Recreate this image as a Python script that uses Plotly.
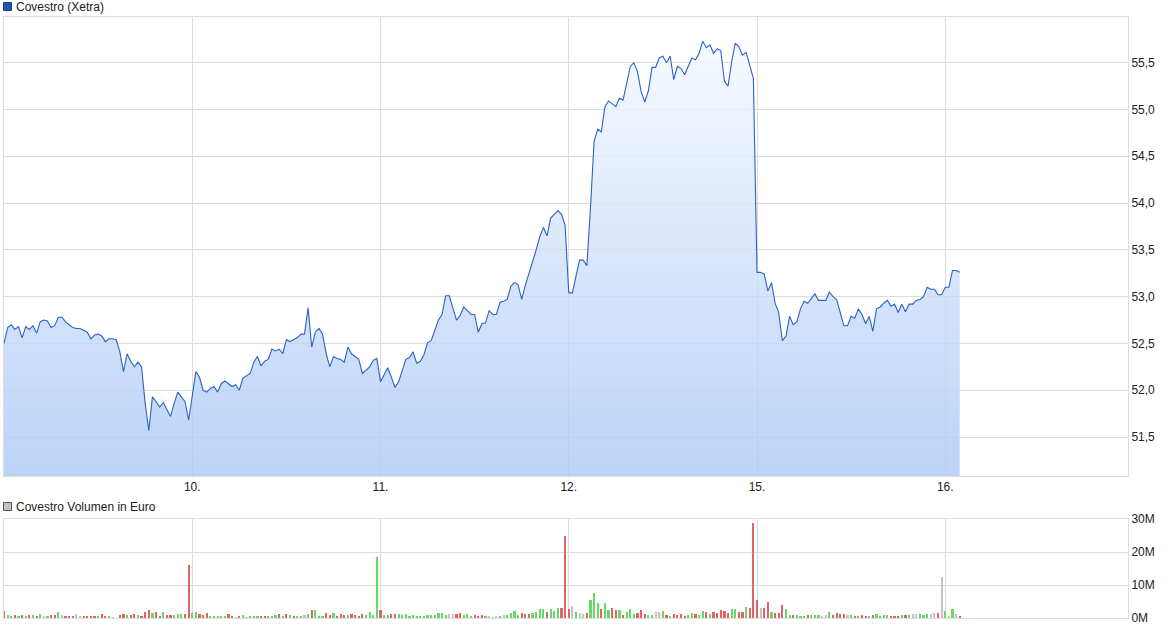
import plotly.graph_objects as go

# ---------------- data ----------------
day_labels = ["9.", "10.", "11.", "12.", "15.", "16."]
slots_per_day = 52

price_09 = [52.50, 52.67, 52.70, 52.65, 52.68, 52.56, 52.68, 52.65, 52.69, 52.61,
            52.73, 52.75, 52.74, 52.67, 52.69, 52.78, 52.78, 52.73, 52.70, 52.67,
            52.66, 52.66, 52.64, 52.62, 52.55, 52.59, 52.60, 52.58, 52.52, 52.55,
            52.55, 52.54, 52.41, 52.20, 52.39, 52.31, 52.25, 52.30, 52.25, 51.86,
            51.57, 51.93, 51.88, 51.82, 51.87, 51.80, 51.72, 51.86, 51.98, 51.93,
            51.88, 51.68]
price_10 = [51.95, 52.20, 52.14, 52.00, 51.98, 52.02, 52.04, 51.98, 52.07, 52.10,
            52.07, 52.04, 52.06, 52.00, 52.13, 52.16, 52.18, 52.30, 52.36, 52.26,
            52.31, 52.33, 52.44, 52.42, 52.44, 52.39, 52.54, 52.52, 52.54, 52.56,
            52.60, 52.60, 52.88, 52.46, 52.62, 52.66, 52.60, 52.39, 52.25, 52.36,
            52.34, 52.33, 52.30, 52.46, 52.39, 52.36, 52.33, 52.18, 52.21, 52.25,
            52.32, 52.34]
price_11 = [52.09, 52.16, 52.24, 52.14, 52.03, 52.09, 52.21, 52.33, 52.35, 52.41,
            52.29, 52.31, 52.38, 52.51, 52.53, 52.65, 52.75, 52.81, 53.01, 53.01,
            52.87, 52.75, 52.80, 52.89, 52.85, 52.81, 52.81, 52.62, 52.71, 52.72,
            52.85, 52.81, 52.81, 52.94, 52.95, 52.97, 53.11, 53.15, 53.13, 52.97,
            53.12, 53.24, 53.36, 53.50, 53.64, 53.74, 53.65, 53.84, 53.88, 53.92,
            53.88, 53.76]
price_12 = [53.04, 53.04, 53.22, 53.39, 53.39, 53.33, 53.95, 54.66, 54.79, 54.76,
            55.03, 55.09, 55.06, 55.03, 55.12, 55.10, 55.28, 55.46, 55.50, 55.40,
            55.19, 55.08, 55.20, 55.45, 55.45, 55.55, 55.57, 55.50, 55.57, 55.32,
            55.46, 55.44, 55.37, 55.46, 55.55, 55.53, 55.60, 55.73, 55.66, 55.69,
            55.60, 55.65, 55.63, 55.30, 55.25, 55.51, 55.71, 55.67, 55.58, 55.61,
            55.48, 55.33]
price_15 = [53.26, 53.26, 53.24, 53.06, 53.15, 52.93, 52.83, 52.53, 52.58, 52.79,
            52.70, 52.73, 52.87, 52.95, 52.93, 52.98, 53.03, 52.96, 52.96, 52.96,
            53.05, 53.00, 52.97, 52.82, 52.69, 52.69, 52.79, 52.77, 52.87, 52.81,
            52.71, 52.79, 52.63, 52.87, 52.89, 52.93, 52.96, 52.90, 52.92, 52.83,
            52.92, 52.84, 52.92, 52.92, 52.96, 52.97, 53.00, 53.10, 53.08, 53.08,
            53.02, 53.02]
price_16 = [53.10, 53.10, 53.28, 53.28, 53.26]

# volume in million euro, direction code: r = down, g = up, n = unchanged
vol_09 = [2.0, 1.0, 0.6, 0.8, 0.5, 0.8, 0.6, 0.9, 0.9, 0.6,
          1.1, 0.5, 0.6, 0.9, 0.9, 1.7, 0.9, 0.6, 0.5, 0.5,
          1.1, 0.5, 0.5, 0.5, 0.5, 0.5, 0.5, 1.1, 0.5, 0.5,
          0.3, 0.1, 0.9, 1.1, 0.9, 0.9, 1.1, 0.9, 0.6, 1.8,
          2.3, 1.4, 1.8, 0.6, 1.7, 0.8, 0.8, 0.8, 1.1, 1.1,
          1.1, 16.2]
dir_09 = "rggrgrgrgr" "gngrrgnrrr" "nnrrrrgrrg" "nnrrgrrgrr" "rgrrgrrggg" "rr"
vol_10 = [1.4, 1.7, 1.1, 0.9, 1.4, 0.6, 0.5, 0.5, 0.5, 0.5,
          1.1, 0.5, 0.3, 0.5, 0.8, 0.3, 0.5, 0.5, 0.5, 0.5,
          0.5, 0.5, 0.5, 0.8, 1.1, 0.6, 1.1, 0.8, 0.5, 0.6,
          0.6, 0.8, 1.1, 2.3, 2.4, 0.6, 0.5, 1.4, 0.9, 1.4,
          0.5, 1.1, 0.9, 0.9, 1.1, 0.9, 0.6, 1.1, 0.9, 1.7,
          0.8, 18.6]
dir_10 = "ggrrrggggg" "rrnrgngggr" "rgggrgrgrg" "gngrgggrrg" "rrrgrrrrgg" "gg"
vol_11 = [2.3, 0.9, 0.9, 1.1, 1.1, 1.2, 0.9, 1.1, 0.6, 0.8,
          0.5, 0.5, 0.6, 0.8, 0.8, 0.9, 1.4, 1.4, 0.9, 1.1,
          1.1, 1.1, 1.4, 0.9, 1.2, 0.6, 0.9, 0.6, 0.9, 0.5,
          0.5, 0.4, 0.5, 0.5, 0.8, 0.9, 1.4, 2.0, 0.9, 1.4,
          1.1, 1.1, 1.4, 1.7, 2.6, 2.6, 1.7, 2.6, 2.0, 2.9,
          2.9, 25.0]
dir_11 = "rggrrggggg" "gggggggggn" "nrrgggrrrg" "nnngnggggr" "rrggggrggg" "rr"
vol_12 = [2.6, 3.5, 1.7, 1.4, 1.3, 1.4, 5.6, 7.5, 4.4, 2.6,
          4.4, 2.3, 2.9, 2.3, 2.3, 0.9, 1.7, 2.6, 1.1, 1.4,
          2.3, 1.1, 0.9, 0.9, 1.7, 1.7, 2.0, 0.9, 0.6, 1.1,
          0.9, 1.1, 0.6, 0.8, 1.4, 1.1, 0.9, 2.0, 1.7, 1.2,
          1.7, 1.4, 2.3, 2.0, 1.4, 2.6, 2.6, 1.7, 1.7, 3.2,
          2.9, 28.9]
dir_12 = "rngnnrgggr" "ggrrgrgggr" "rrggnngrgr" "rrrggrggrg" "rrrrrggrrg" "rr"
vol_15 = [5.6, 2.9, 2.9, 4.7, 1.7, 1.4, 1.4, 3.8, 2.6, 0.9,
          0.8, 0.8, 0.5, 0.5, 0.8, 0.8, 0.9, 0.9, 0.5, 0.9,
          1.7, 0.8, 1.4, 1.1, 1.1, 0.8, 0.8, 0.6, 0.6, 0.8,
          0.6, 0.6, 0.9, 1.1, 0.6, 0.8, 0.8, 0.6, 0.6, 0.6,
          0.9, 0.9, 0.9, 1.1, 1.1, 1.1, 0.8, 1.1, 1.1, 1.4,
          1.4, 12.3]
dir_15 = "rnrrgrrrgg" "rgggrgggnn" "grrrrngrgr" "rgrggggrrr" "grgnngggnn" "rn"
vol_16 = [2.0, 0.5, 2.6, 1.1, 0.5]
dir_16 = "gngnr"

price_ticks = [51.5, 52.0, 52.5, 53.0, 53.5, 54.0, 54.5, 55.0, 55.5]
price_tick_text = ["51,5", "52,0", "52,5", "53,0", "53,5", "54,0", "54,5", "55,0", "55,5"]
vol_ticks = [0, 10, 20, 30]
vol_tick_text = ["0M", "10M", "20M", "30M"]

# ---------------- build series ----------------
price_days = [price_09, price_10, price_11, price_12, price_15, price_16]
vol_days = [vol_09, vol_10, vol_11, vol_12, vol_15, vol_16]
dir_days = [dir_09, dir_10, dir_11, dir_12, dir_15, dir_16]

x_price, y_price = [], []
for k, vals in enumerate(price_days):
    for i, v in enumerate(vals):
        x_price.append(k + i / slots_per_day)
        y_price.append(v)

dir_colors = {"r": "#e06666", "g": "#66d966", "n": "#c4c4c4"}
x_vol, y_vol, c_vol = [], [], []
for k, (vals, dirs) in enumerate(zip(vol_days, dir_days)):
    for i, v in enumerate(vals):
        x_vol.append(k + i / slots_per_day)
        y_vol.append(v)
        c_vol.append(dir_colors[dirs[i]])

FONT = "Liberation Sans, Arial, sans-serif"
GRID = "#dcdcdc"

fig = go.Figure()
fig.add_trace(go.Scatter(
    x=x_price, y=y_price, mode="lines",
    line=dict(color="#2a62c8", width=1.1),
    fill="tozeroy",
    fillgradient=dict(type="vertical",
                      colorscale=[[0, "rgba(171,200,245,0.8)"], [1, "rgba(244,248,255,0.8)"]],
                      start=51.08, stop=55.75),
    xaxis="x", yaxis="y", hoverinfo="skip", showlegend=False))
fig.add_trace(go.Bar(
    x=x_vol, y=y_vol, marker=dict(color=c_vol, line=dict(width=0)),
    width=0.6 / slots_per_day, xaxis="x2", yaxis="y2",
    hoverinfo="skip", showlegend=False))

W, H = 1175, 630
ml, mr, mt, mb = 4, 47, 17, 12
ph = H - mt - mb
pw = W - ml - mr


def py(pix):
    return (H - mb - pix) / ph


def px(pix):
    return (pix - ml) / pw


xr = [0, pw / 188.25]
common_x = dict(range=xr, tickvals=[1, 2, 3, 4, 5], ticktext=day_labels[1:],
                showgrid=True, gridcolor=GRID, gridwidth=1, zeroline=False,
                showline=True, mirror=True, linecolor=GRID, linewidth=1, ticks="",
                fixedrange=True)

fig.update_layout(
    width=W, height=H,
    margin=dict(l=ml, r=mr, t=mt, b=mb),
    paper_bgcolor="white", plot_bgcolor="white",
    showlegend=False, hovermode=False,
    bargap=0,
    xaxis=dict(domain=[0, 1], anchor="y", ticklabelstandoff=0,
               tickfont=dict(family=FONT, size=12, color="#222"), **common_x),
    xaxis2=dict(domain=[0, 1], anchor="y2", showticklabels=False, **common_x),
    yaxis=dict(domain=[py(476), 1], anchor="x", side="right",
               range=[51.084, 55.988], tickvals=price_ticks, ticktext=price_tick_text,
               showgrid=True, gridcolor=GRID, zeroline=False,
               showline=True, mirror=True, linecolor=GRID, ticks="",
               tickfont=dict(family=FONT, size=12, color="#222")),
    yaxis2=dict(domain=[0, py(519)], anchor="x2", side="right",
                range=[0, 30], tickvals=vol_ticks, ticktext=vol_tick_text,
                showgrid=True, gridcolor=GRID, zeroline=False,
                showline=True, mirror=True, linecolor=GRID, ticks="",
                tickfont=dict(family=FONT, size=12, color="#222")),
    shapes=[
        dict(type="rect", xref="paper", yref="paper",
             x0=px(3.5), x1=px(11.5), y0=py(10.5), y1=py(2.5),
             fillcolor="#2157b8", line=dict(color="#1b3f80", width=1)),
        dict(type="rect", xref="paper", yref="paper",
             x0=px(3.5), x1=px(11.5), y0=py(510.5), y1=py(502.5),
             fillcolor="#c4c4c4", line=dict(color="#555", width=1)),
    ],
    annotations=[
        dict(text="Covestro (Xetra)", xref="paper", yref="paper",
             x=px(14), y=py(7), xanchor="left", yanchor="middle", showarrow=False,
             font=dict(family=FONT, size=12, color="#222")),
        dict(text="Covestro Volumen in Euro", xref="paper", yref="paper",
             x=px(14), y=py(507), xanchor="left", yanchor="middle", showarrow=False,
             font=dict(family=FONT, size=12, color="#222")),
    ],
)

fig.write_html("out.html",
               config={"displayModeBar": False, "staticPlot": True},
               post_script="document.body.style.margin='0';document.body.style.overflow='hidden';")
